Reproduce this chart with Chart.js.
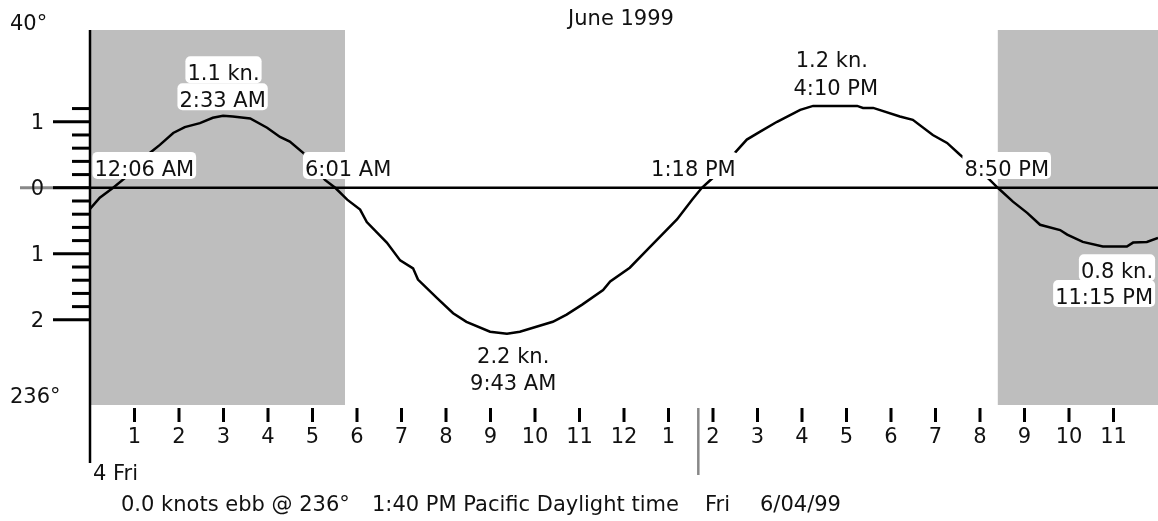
<!DOCTYPE html>
<html>
<head>
<meta charset="utf-8">
<script src="https://cdn.jsdelivr.net/npm/chart.js@4"></script>
<style>
  body { margin: 0; background: #fff; }
  canvas { display: block; }
</style>
</head>
<body>
<canvas id="chart" width="1158" height="521"></canvas>
<script>
// tidal current, June 4 1999 (hours after midnight, knots: + flood, - ebb)
var hours = [0, 0.22, 0.52, 0.79, 1.35, 1.57, 1.87, 2.13, 2.47, 2.76, 2.99, 3.21, 3.60, 3.98, 4.27, 4.49, 4.79,
    5.28, 5.51, 5.78, 6.07, 6.22, 6.67, 6.97, 7.26, 7.37, 7.80, 8.16, 8.46, 8.99, 9.37, 9.66, 10.40, 10.71,
    11.06, 11.53, 11.69, 12.13, 12.52, 13.19, 13.53, 13.75, 13.98, 14.49, 14.76, 15.06, 15.44, 15.96, 16.25,
    17.24, 17.37, 17.60, 18.20, 18.49, 18.94, 19.26, 19.55, 20.22, 20.40, 20.74, 21.06, 21.35, 21.80, 21.96,
    22.31, 22.76, 23.30, 23.44, 23.75, 24];
var knots = [-0.32, -0.15, 0, 0.15, 0.53, 0.65, 0.83, 0.92, 0.98, 1.06, 1.09, 1.08, 1.05, 0.91, 0.77, 0.70, 0.53,
    0.12, 0, -0.18, -0.33, -0.52, -0.83, -1.10, -1.22, -1.39, -1.67, -1.90, -2.03, -2.18, -2.21, -2.18, -2.03, -1.92,
    -1.77, -1.55, -1.42, -1.21, -0.94, -0.48, -0.18, 0, 0.14, 0.53, 0.73, 0.85, 1.00, 1.18, 1.24,
    1.24, 1.21, 1.21, 1.08, 1.03, 0.80, 0.68, 0.50, 0.12, 0, -0.21, -0.38, -0.56, -0.64, -0.71,
    -0.82, -0.89, -0.89, -0.83, -0.82, -0.76];

var nightStart = [0, 20.40];
var nightEnd = [5.73, 24];

var hourTicks = [1, 2, 3, 4, 5, 6, 7, 8, 9, 10, 11, 12, 13, 14, 15, 16, 17, 18, 19, 20, 21, 22, 23];
var hourLabels = ['1', '2', '3', '4', '5', '6', '7', '8', '9', '10', '11', '12',
    '1', '2', '3', '4', '5', '6', '7', '8', '9', '10', '11'];

var knotTicks = [1.2, 1, 0.8, 0.6, 0.4, 0.2, 0, -0.2, -0.4, -0.6, -0.8, -1, -1.2, -1.4, -1.6, -1.8, -2];
var knotMajor = [1, 0, -1, -2];
var knotLabels = ['1', '0', '1', '2'];

var nowHour = 13.67;   // 1:40 PM
var nowKnots = 0;

// event labels: text, hour, knots (anchor), alignment
var eventText = ['1.1 kn.', '2:33 AM', '12:06 AM', '6:01 AM', '1:18 PM', '8:50 PM',
    '1.2 kn.', '4:10 PM', '2.2 kn.', '9:43 AM', '0.8 kn.', '11:15 PM'];
var eventHour = [3.0, 2.98, 1.22, 5.80, 13.56, 20.60, 16.67, 16.76, 9.51, 9.51, 23.89, 23.89];
var eventKnots = [1.63, 1.22, 0.18, 0.18, 0.18, 0.18, 1.83, 1.40, -2.65, -3.06, -1.37, -1.76];
var eventAlign = ['center', 'center', 'center', 'center', 'center', 'center',
    'center', 'center', 'center', 'center', 'right', 'right'];

var FONT = '21px "DejaVu Sans"';
var INK = '#111';

function roundBox(ctx, x, y, w, h, r) {
    ctx.beginPath();
    ctx.moveTo(x + r, y);
    ctx.arcTo(x + w, y, x + w, y + h, r);
    ctx.arcTo(x + w, y + h, x, y + h, r);
    ctx.arcTo(x, y + h, x, y, r);
    ctx.arcTo(x, y, x + w, y, r);
    ctx.closePath();
    ctx.fill();
}

var tideDeco = {
    id: 'tideDeco',
    beforeDatasetsDraw: function (chart) {
        var ctx = chart.ctx, a = chart.chartArea;
        var xs = chart.scales.x, ys = chart.scales.y;
        ctx.save();

        // night shading
        ctx.fillStyle = '#bebebe';
        for (var i = 0; i < nightStart.length; i++) {
            var x0 = xs.getPixelForValue(nightStart[i]);
            var x1 = xs.getPixelForValue(nightEnd[i]);
            ctx.fillRect(x0, a.top, x1 - x0, a.bottom - a.top);
        }

        var y0 = ys.getPixelForValue(0);

        // current value marker on the left
        ctx.strokeStyle = '#888';
        ctx.lineWidth = 3;
        ctx.beginPath();
        ctx.moveTo(20, ys.getPixelForValue(nowKnots));
        ctx.lineTo(a.left - 37, ys.getPixelForValue(nowKnots));
        ctx.stroke();

        // zero line
        ctx.strokeStyle = '#000';
        ctx.lineWidth = 2.5;
        ctx.beginPath();
        ctx.moveTo(a.left - 37, y0);
        ctx.lineTo(a.right, y0);
        ctx.stroke();

        // vertical axis
        ctx.lineWidth = 2.5;
        ctx.beginPath();
        ctx.moveTo(a.left, a.top);
        ctx.lineTo(a.left, 463);
        ctx.stroke();

        // knot ticks
        ctx.lineWidth = 3;
        knotTicks.forEach(function (v) {
            var y = ys.getPixelForValue(v);
            var len = knotMajor.indexOf(v) >= 0 ? 37 : 18;
            ctx.beginPath();
            ctx.moveTo(a.left - len, y);
            ctx.lineTo(a.left, y);
            ctx.stroke();
        });

        ctx.font = FONT;
        ctx.fillStyle = INK;
        ctx.textAlign = 'right';
        ctx.textBaseline = 'middle';
        knotMajor.forEach(function (v, i) {
            ctx.fillText(knotLabels[i], 44, ys.getPixelForValue(v) + 2);
        });

        // hour ticks
        ctx.lineWidth = 3;
        ctx.textAlign = 'center';
        ctx.textBaseline = 'alphabetic';
        hourTicks.forEach(function (h, i) {
            var x = xs.getPixelForValue(h);
            ctx.beginPath();
            ctx.moveTo(x, a.bottom + 3);
            ctx.lineTo(x, a.bottom + 17);
            ctx.stroke();
            ctx.fillText(hourLabels[i], x, a.bottom + 38);
        });

        // captions
        ctx.textAlign = 'left';
        ctx.fillText('40°', 10, 30);
        ctx.fillText('236°', 10, 403);
        ctx.fillText('4 Fri', 93, 480);
        ctx.fillText('0.0 knots ebb @ 236°', 121, 511);
        ctx.fillText('1:40 PM Pacific Daylight time', 372, 511);
        ctx.fillText('Fri', 705, 511);
        ctx.fillText('6/04/99', 760, 511);
        ctx.textAlign = 'center';
        ctx.fillText('June 1999', 621, 25);

        ctx.restore();
    },
    afterDatasetsDraw: function (chart) {
        var ctx = chart.ctx, a = chart.chartArea;
        var xs = chart.scales.x, ys = chart.scales.y;
        ctx.save();

        // current time marker
        var xn = xs.getPixelForValue(nowHour);
        ctx.strokeStyle = '#888';
        ctx.lineWidth = 2.5;
        ctx.beginPath();
        ctx.moveTo(xn, a.bottom + 3);
        ctx.lineTo(xn, a.bottom + 70);
        ctx.stroke();

        // event labels on white boxes
        ctx.font = FONT;
        ctx.textBaseline = 'alphabetic';
        eventText.forEach(function (t, i) {
            var x = xs.getPixelForValue(eventHour[i]);
            var y = ys.getPixelForValue(eventKnots[i]);
            var w = ctx.measureText(t).width;
            var left = eventAlign[i] === 'right' ? x - w : x - w / 2;
            ctx.fillStyle = '#fff';
            roundBox(ctx, left - 2, y - 24, w + 4, 27, 5);
            ctx.fillStyle = INK;
            ctx.textAlign = 'left';
            ctx.fillText(t, left, y);
        });

        ctx.restore();
    }
};

var points = hours.map(function (h, i) { return { x: h, y: knots[i] }; });

var chart = new Chart('chart', {
    type: 'scatter',
    data: {
        datasets: [{
            data: points,
            showLine: true,
            borderColor: '#000',
            borderWidth: 2.5,
            pointRadius: 0,
            tension: 0
        }]
    },
    options: {
        responsive: false,
        animation: false,
        events: [],
        layout: { padding: { left: 90, right: 0, top: 30, bottom: 116 } },
        scales: {
            x: { type: 'linear', min: 0, max: 24, display: false },
            y: { type: 'linear', min: -3.29, max: 2.39, display: false }
        },
        plugins: {
            legend: { display: false },
            tooltip: { enabled: false }
        }
    },
    plugins: [tideDeco]
});
</script>
</body>
</html>
